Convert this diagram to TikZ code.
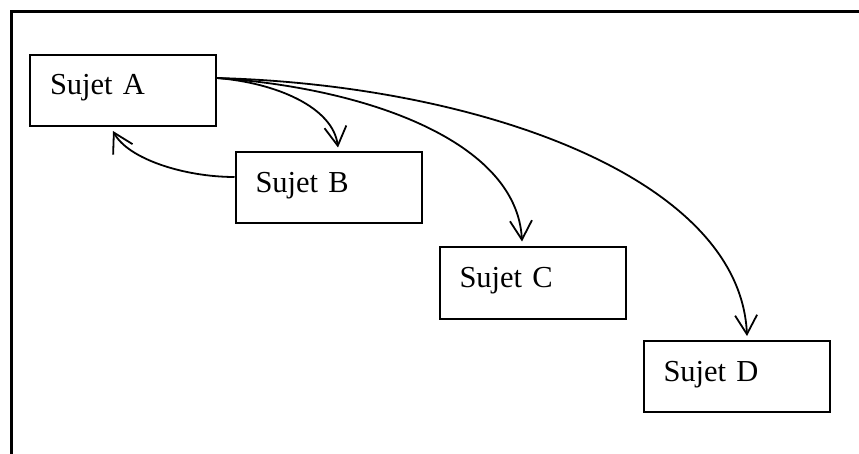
\documentclass[tikz,border=0pt]{standalone}
\usepackage{fontspec}
\setmainfont{Liberation Serif}
\usetikzlibrary{arrows.meta}
\tikzset{
  sujetbox/.style={draw, line width=2pt, rectangle, minimum width=186pt, minimum height=71pt,
    inner xsep=20pt, inner ysep=0pt, text width=146pt, align=left,
    text height=20pt, text depth=11pt, font=\fontsize{30.5}{36}\selectfont},
  link/.style={line width=1.8pt, -{Straight Barb[length=19pt,width=22pt]}},
  frameline/.style={line width=2.8pt}
}
\begin{document}
\begin{tikzpicture}[x=1pt,y=1pt]
\useasboundingbox (0,0) rectangle (859,-454);
\draw[frameline] (11.5,-454) -- (11.5,-11.5) -- (859,-11.5);
\node[sujetbox] (A) at (123,-90.5) {Sujet A};
\node[sujetbox] (B) at (328.5,-188) {Sujet B};
\node[sujetbox] (C) at (532.5,-283) {Sujet C};
\node[sujetbox] (D) at (736.5,-376.5) {Sujet D};
\draw[link] ([yshift=12.5pt]A.east) .. controls +(60,-5) and +(-5,40) .. ([xshift=9.5pt,yshift=4pt]B.north);
\draw[link] ([yshift=12.5pt]A.east) .. controls +(150,-10) and +(-5,100) .. ([xshift=-10.5pt,yshift=5pt]C.north);
\draw[link] ([yshift=12.5pt]A.east) .. controls +(260,-7) and +(-7,159) .. ([xshift=10.5pt,yshift=4pt]D.north);
\draw[link] ([yshift=11pt]B.west) .. controls +(-50,0) and +(15,-28) .. ([xshift=-10pt,yshift=-4pt]A.south);
\end{tikzpicture}
\end{document}
